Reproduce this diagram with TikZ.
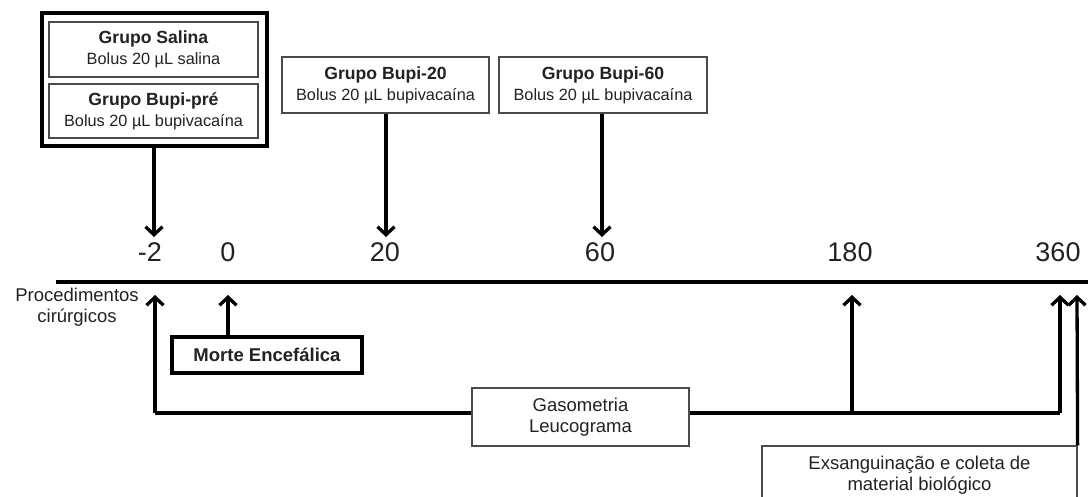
\documentclass[tikz,border=0pt]{standalone}
\usepackage{fontspec}
\setmainfont{Liberation Sans}
\usetikzlibrary{arrows.meta}
\definecolor{txt}{HTML}{222222}
\definecolor{bord}{HTML}{4A4A4A}
\begin{document}
\begin{tikzpicture}[x=1pt,y=-1pt,
  grpbox/.style={draw=bord,line width=1.4pt,fill=white,inner sep=0pt,align=center,
    text=txt,minimum width=#1,minimum height=55pt,font=\fontsize{16.3}{21}\selectfont},
  grpbox/.default=209pt,
  thickbox/.style={draw=black,line width=4.5pt,inner sep=0pt},
  thinbox/.style={draw=bord,line width=1.2pt,fill=white,inner sep=0pt,align=center,text=txt,
    font=\fontsize{18.5}{21}\selectfont},
  numlbl/.style={text=txt,inner sep=0pt,font=\fontsize{27}{30}\selectfont},
  arr/.style={line width=3.3pt,-{Straight Barb[length=8pt,width=17pt]}},
  plain/.style={line width=3.3pt}
]
\useasboundingbox (0,0) rectangle (1088,497);

% group boxes
\node[thickbox,minimum width=225pt,minimum height=133pt] (outer) at (154.5,79.5) {};
\node[grpbox] (salina) at (153.5,49.5)
  {{\fontsize{17.6}{21}\selectfont\bfseries Grupo Salina}\\Bolus 20 µL salina};
\node[grpbox,minimum height=54pt] (bupipre) at (153.5,111)
  {{\fontsize{17.6}{21}\selectfont\bfseries Grupo Bupi-pré}\\Bolus 20 µL bupivacaína};
\node[grpbox=207pt,minimum height=56pt] (bupi20) at (385.5,85)
  {{\fontsize{17.6}{21}\selectfont\bfseries Grupo Bupi-20}\\Bolus 20 µL bupivacaína};
\node[grpbox=208pt,minimum height=56pt] (bupi60) at (603,85)
  {{\fontsize{17.6}{21}\selectfont\bfseries Grupo Bupi-60}\\Bolus 20 µL bupivacaína};

% time labels
\node[numlbl] (nm2) at (150,252) {-2};
\node[numlbl] (n0) at (228,252) {0};
\node[numlbl] (n20) at (385,252) {20};
\node[numlbl] (n60) at (600,252) {60};
\node[numlbl] (n180) at (850,252) {180};
\node[numlbl] (n360) at (1058,252) {360};

% down arrows
\coordinate (dm2) at (154,237);
\coordinate (d20) at (386,237);
\coordinate (d60) at (602,237);
\draw[arr] (outer.south -| dm2) -- (dm2);
\draw[arr] (bupi20.south -| d20) -- (d20);
\draw[arr] (bupi60.south -| d60) -- (d60);

% timeline
\coordinate (tlA) at (56,282);
\coordinate (tlB) at (1088,282);
\draw[line width=3.5pt] (tlA) -- (tlB);

% lower part
\node[text=txt,align=center,inner sep=0pt,font=\fontsize{18.5}{21}\selectfont] (proc) at (77,307)
  {Procedimentos\\cirúrgicos};
\node[thickbox,line width=4pt,minimum width=190pt,minimum height=35pt,
  font=\fontsize{18.5}{21}\selectfont\bfseries,text=txt] (morte) at (267,355) {Morte Encefálica};

\coordinate (c1) at (155,413);
\coordinate (u1) at (155,295);
\coordinate (u0) at (228,295);
\coordinate (c3) at (852,413);
\coordinate (u3) at (852,295);
\coordinate (c4) at (1060,413);
\coordinate (u4) at (1060,295);
\coordinate (u5) at (1077,295);

\node[thinbox,minimum width=217pt,minimum height=58pt] (gas) at (580.5,417)
  {Gasometria\\Leucograma};
\node[thinbox,minimum width=315pt,minimum height=58pt] (exs) at (919.5,475)
  {Exsanguinação e coleta de\\material biológico};

\draw[plain] (c1) -- (gas.west |- c1);
\draw[plain] (gas.east |- c4) -- (c4);
\draw[arr] (c1) -- (u1);
\draw[arr] (morte.north -| u0) -- (u0);
\draw[arr] (c3) -- (u3);
\draw[arr] (c4) -- (u4);
\draw[arr] (exs.north east) -- (u5);
\end{tikzpicture}
\end{document}
